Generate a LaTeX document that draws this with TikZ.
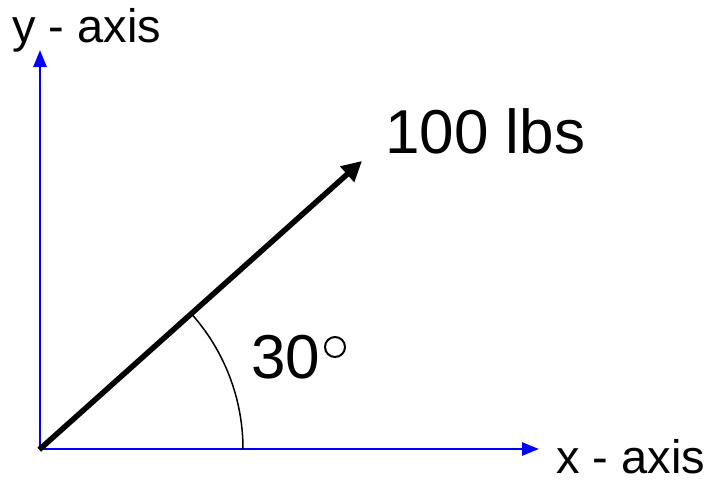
\documentclass[tikz,border=0pt]{standalone}
\usepackage{fontspec}
\setmainfont{Liberation Sans}
\usetikzlibrary{arrows.meta}
\begin{document}
\begin{tikzpicture}[x=1pt,y=-1pt,
  axisline/.style={draw=blue, line width=2.6pt, -{Triangle[length=17pt,width=13pt]}},
  vecline/.style={draw=black, line width=5.5pt, -{Triangle[length=20pt,width=20pt]}},
  lbl/.style={inner sep=0pt, anchor=base west},
  small/.style={font=\fontsize{47}{50}\selectfont},
  big/.style={font=\fontsize{62}{66}\selectfont}]
\useasboundingbox (0,0) rectangle (708,479);
\coordinate (O) at (40,449);
\coordinate (Y) at (40,50);
\coordinate (X) at (539,449);
\coordinate (V) at (362,161);
\draw[axisline] (O) -- (Y);
\draw[axisline] (O) -- (X);
\draw[vecline, shorten <=-1pt] (O) -- (V);
\coordinate (A1) at (243,449);
\draw[line width=1.5pt] (A1) arc[start angle=0, end angle=-41.9, radius=203];
\node[lbl, small] (ylab) at (12,42) {y - axis};
\node[lbl, small] (xlab) at (556,473) {x - axis};
\node[lbl, big] (flab) at (385,153) {100 lbs};
\node[lbl, big] (alab) at (251,378) {30};
\draw[line width=2pt] (335,347) circle[radius=10];
\end{tikzpicture}
\end{document}
